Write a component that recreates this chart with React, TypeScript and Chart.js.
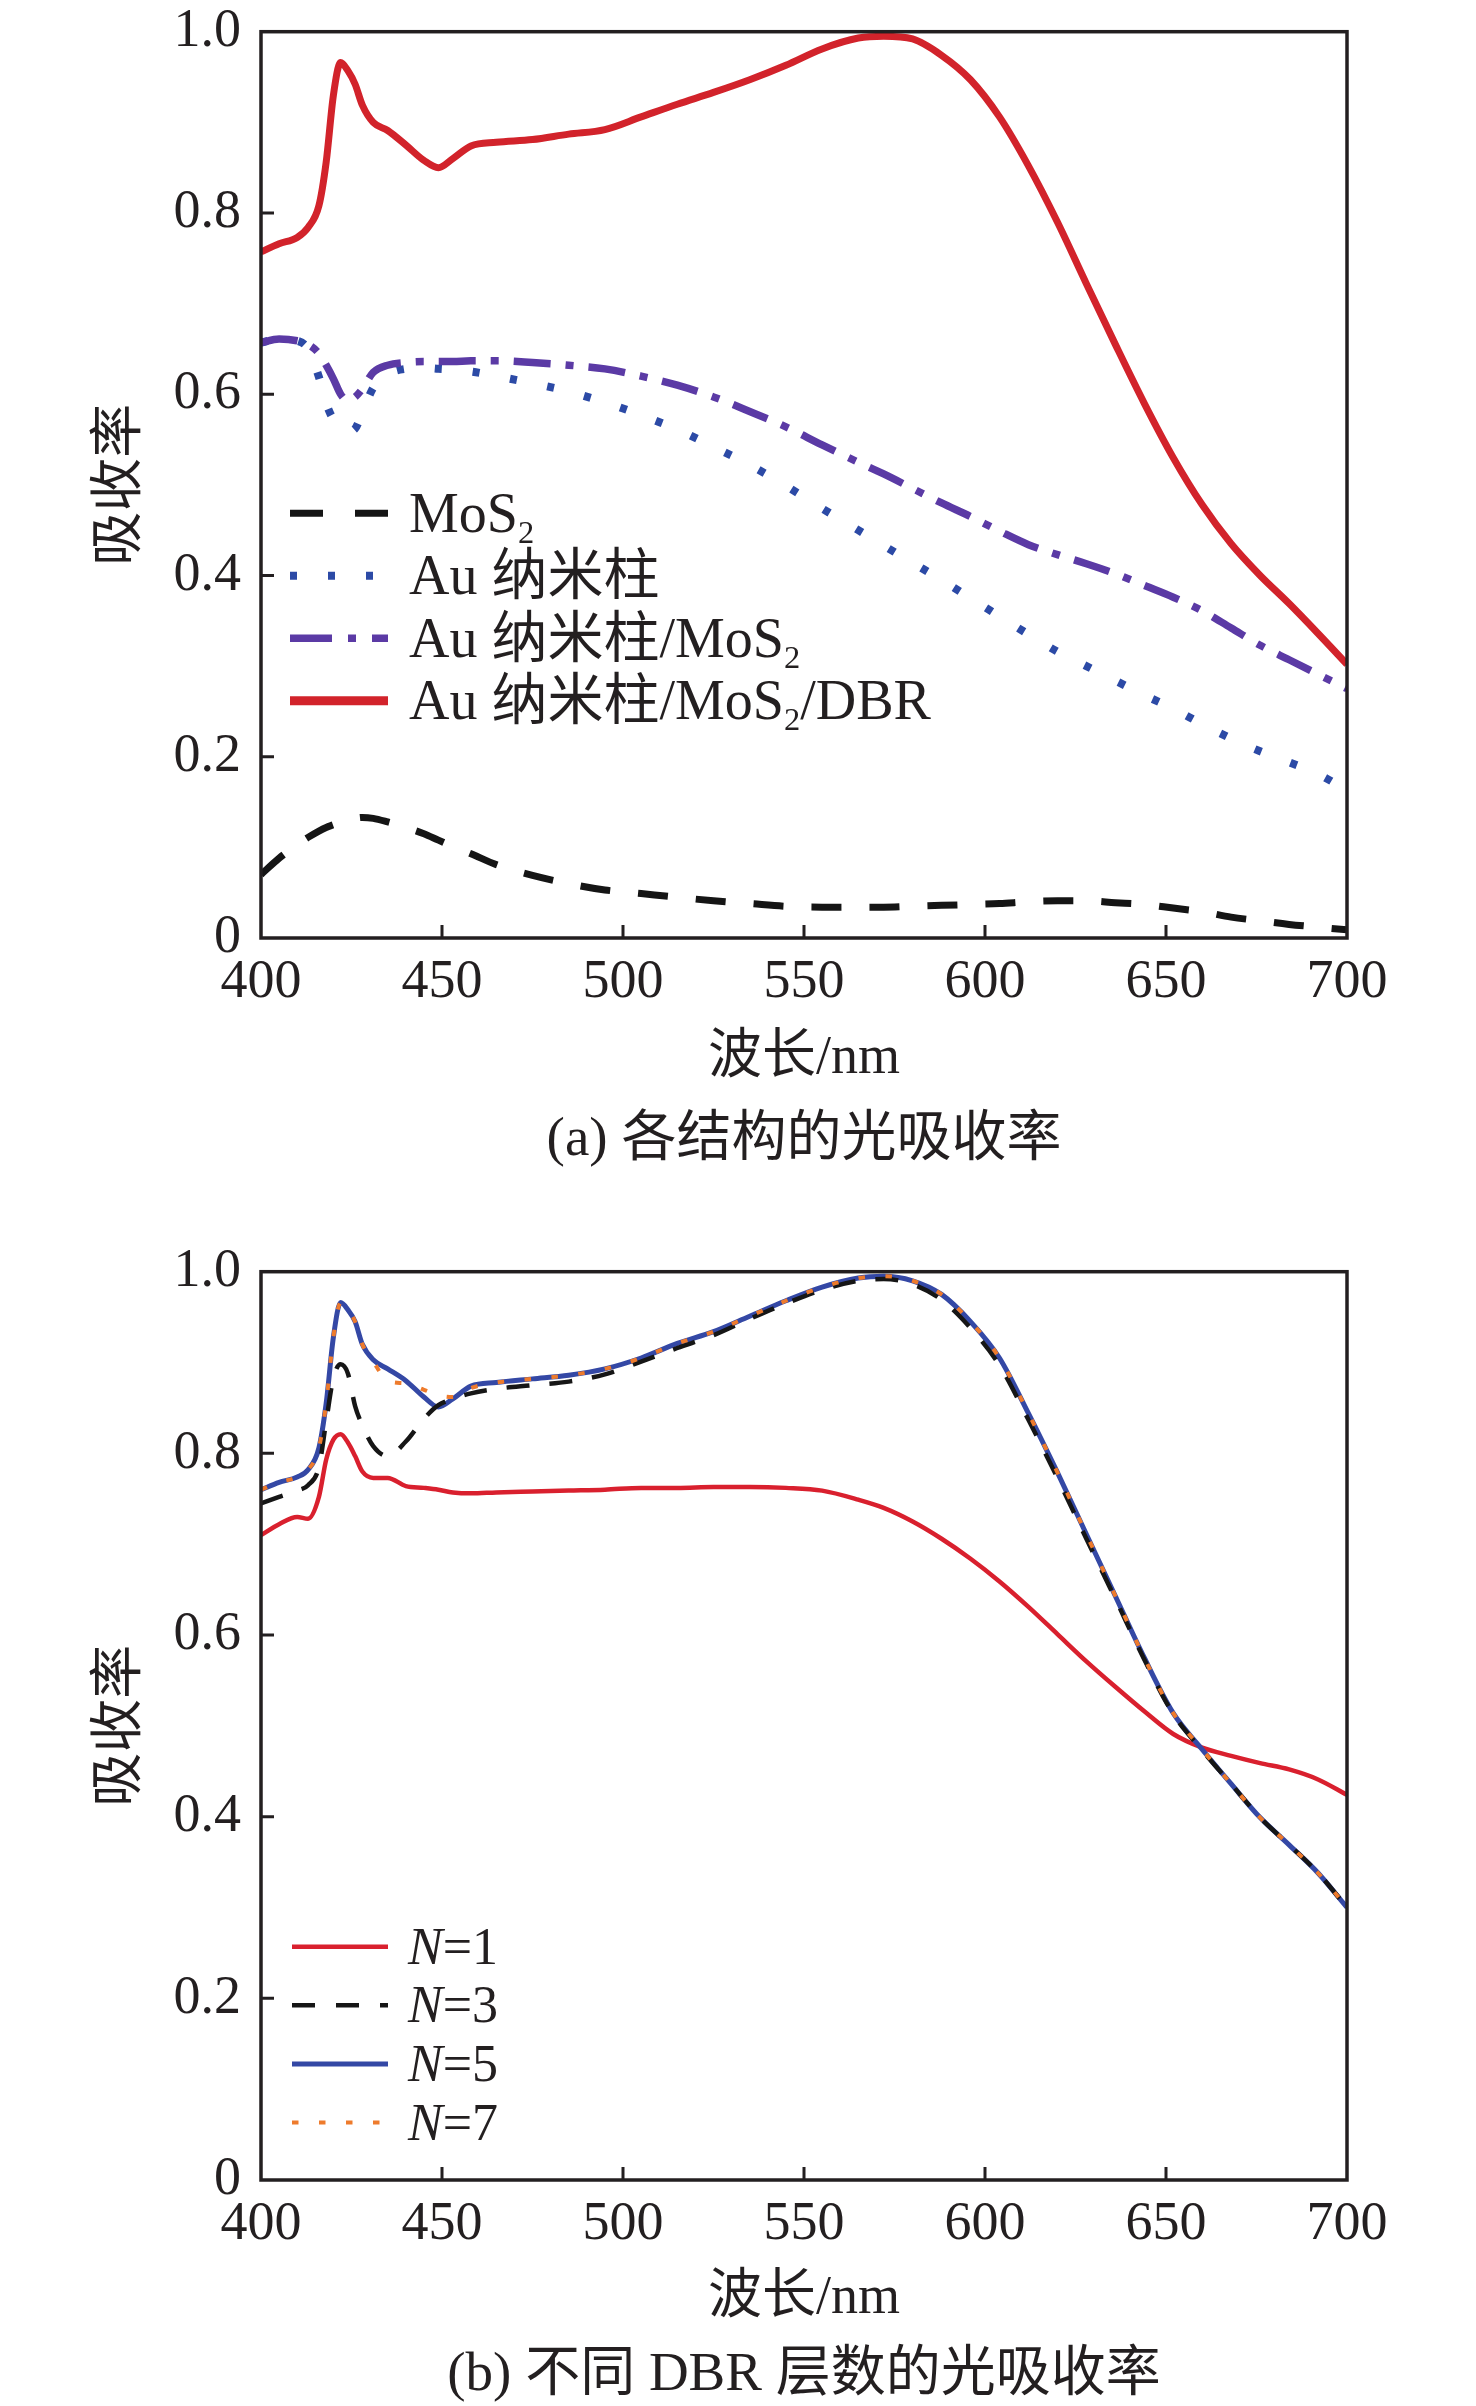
import { useEffect, useRef } from "react";
import { Chart, registerables } from "chart.js";

Chart.register(...registerables);

// wavelength grid (nm) shared by every curve
const wavelength = [
  400, 405, 410, 413, 416, 418, 420, 422, 424, 426,
  428, 431, 435, 440, 445, 449, 453, 458, 465, 475,
  485, 495, 505, 515, 525, 535, 545, 555, 565, 572,
  580, 588, 596, 604, 612, 620, 628, 636, 644, 652,
  660, 668, 676, 684, 692, 700,
];

// (a) absorption of each structure
const mos2 = [
  0.070, 0.088, 0.103, 0.111, 0.118, 0.122, 0.125, 0.128, 0.130, 0.132,
  0.133, 0.132, 0.128, 0.122, 0.115, 0.108, 0.101, 0.093, 0.081, 0.069,
  0.060, 0.053, 0.049, 0.045, 0.041, 0.038, 0.035, 0.034, 0.034, 0.034,
  0.035, 0.036, 0.037, 0.038, 0.040, 0.041, 0.041, 0.039, 0.037, 0.033,
  0.029, 0.023, 0.019, 0.015, 0.012, 0.009,
];
const auRod = [
  0.657, 0.661, 0.659, 0.650, 0.619, 0.590, 0.572, 0.563, 0.559, 0.562,
  0.580, 0.607, 0.622, 0.628, 0.629, 0.628, 0.627, 0.625, 0.620, 0.612,
  0.603, 0.591, 0.577, 0.561, 0.542, 0.522, 0.499, 0.474, 0.450, 0.433,
  0.414, 0.395, 0.375, 0.355, 0.335, 0.316, 0.300, 0.284, 0.268, 0.253,
  0.236, 0.220, 0.206, 0.194, 0.181, 0.163,
];
const auRodMos2 = [
  0.657, 0.661, 0.659, 0.655, 0.645, 0.632, 0.617, 0.600, 0.593, 0.597,
  0.606, 0.624, 0.632, 0.635, 0.636, 0.636, 0.636, 0.637, 0.637, 0.635,
  0.632, 0.628, 0.620, 0.610, 0.597, 0.581, 0.564, 0.544, 0.525, 0.512,
  0.496, 0.480, 0.465, 0.449, 0.434, 0.423, 0.413, 0.402, 0.389, 0.376,
  0.361, 0.342, 0.323, 0.307, 0.291, 0.275,
];
const auRodMos2Dbr = [
  0.757, 0.766, 0.773, 0.784, 0.808, 0.856, 0.930, 0.966, 0.957, 0.942,
  0.919, 0.900, 0.891, 0.875, 0.858, 0.850, 0.860, 0.874, 0.878, 0.881,
  0.887, 0.892, 0.906, 0.920, 0.933, 0.947, 0.963, 0.981, 0.993, 0.995,
  0.992, 0.974, 0.947, 0.906, 0.852, 0.790, 0.722, 0.655, 0.590, 0.530,
  0.478, 0.435, 0.400, 0.369, 0.336, 0.302,
];

// (b) different DBR layer numbers
const n1 = [
  0.710, 0.722, 0.730, 0.728, 0.752, 0.793, 0.815, 0.821, 0.812, 0.797,
  0.780, 0.773, 0.773, 0.764, 0.762, 0.760, 0.757, 0.756, 0.757, 0.758,
  0.759, 0.760, 0.762, 0.762, 0.763, 0.763, 0.762, 0.759, 0.749, 0.740,
  0.725, 0.706, 0.684, 0.659, 0.631, 0.601, 0.571, 0.543, 0.516, 0.491,
  0.476, 0.467, 0.459, 0.452, 0.441, 0.424,
];
const n3 = [
  0.745, 0.752, 0.759, 0.765, 0.785, 0.835, 0.883, 0.898, 0.888, 0.852,
  0.831, 0.808, 0.797, 0.813, 0.838, 0.853, 0.860, 0.866, 0.871, 0.875,
  0.879, 0.887, 0.901, 0.916, 0.930, 0.948, 0.965, 0.980, 0.990, 0.992,
  0.986, 0.969, 0.938, 0.897, 0.837, 0.773, 0.706, 0.640, 0.573, 0.513,
  0.473, 0.436, 0.399, 0.369, 0.338, 0.300,
];
const n5 = [
  0.760, 0.768, 0.774, 0.782, 0.806, 0.855, 0.928, 0.966, 0.958, 0.945,
  0.920, 0.903, 0.893, 0.880, 0.862, 0.851, 0.860, 0.874, 0.878, 0.882,
  0.886, 0.893, 0.905, 0.921, 0.934, 0.951, 0.968, 0.983, 0.993, 0.995,
  0.990, 0.975, 0.945, 0.905, 0.844, 0.779, 0.711, 0.643, 0.575, 0.514,
  0.474, 0.436, 0.399, 0.369, 0.338, 0.300,
];
const n7 = [
  0.760, 0.768, 0.774, 0.782, 0.806, 0.855, 0.928, 0.966, 0.958, 0.945,
  0.920, 0.901, 0.880, 0.877, 0.870, 0.864, 0.862, 0.872, 0.878, 0.882,
  0.886, 0.893, 0.905, 0.921, 0.934, 0.951, 0.968, 0.983, 0.993, 0.995,
  0.990, 0.975, 0.945, 0.905, 0.844, 0.779, 0.711, 0.643, 0.575, 0.514,
  0.474, 0.436, 0.399, 0.369, 0.338, 0.300,
];

const xTicks = [400, 450, 500, 550, 600, 650, 700];
const yTicks = [0, 0.2, 0.4, 0.6, 0.8, 1.0];
const yTickLabels = ["0", "0.2", "0.4", "0.6", "0.8", "1.0"];

const xTitle = "波长/nm";
const yTitle = "吸收率";
const captionA = "(a) 各结构的光吸收率";
const captionB = "(b) 不同 DBR 层数的光吸收率";

type Seg = { t: string; sub?: boolean; it?: boolean };

const legendLabelsA: Seg[][] = [
  [{ t: "MoS" }, { t: "2", sub: true }],
  [{ t: "Au 纳米柱" }],
  [{ t: "Au 纳米柱/MoS" }, { t: "2", sub: true }],
  [{ t: "Au 纳米柱/MoS" }, { t: "2", sub: true }, { t: "/DBR" }],
];
const legendLabelsB: Seg[][] = [
  [{ t: "N", it: true }, { t: "=1" }],
  [{ t: "N", it: true }, { t: "=3" }],
  [{ t: "N", it: true }, { t: "=5" }],
  [{ t: "N", it: true }, { t: "=7" }],
];

const FONT = "'Liberation Serif', 'Noto Sans CJK SC', serif";
const INK = "#231f20";

const toPoints = (ys: number[]) => wavelength.map((x, i) => ({ x, y: ys[i] }));

type Line = {
  values: number[];
  color: string;
  width: number;
  dash: number[];
  legendDash?: number[];
  legendWidth?: number;
  order: number;
};

type LegendCfg = {
  labels: Seg[][];
  lines: Line[];
  dx: number;
  dy: number;
  step: number;
  lineLen: number;
  textGap: number;
  size: number;
};

const framePlugin = {
  id: "frame",
  afterDatasetsDraw(chart: any) {
    const { ctx, chartArea: a, scales } = chart;
    ctx.save();
    ctx.strokeStyle = INK;
    ctx.lineWidth = 3.5;
    ctx.strokeRect(a.left, a.top, a.right - a.left, a.bottom - a.top);
    ctx.lineWidth = 3;
    ctx.beginPath();
    yTicks.slice(1, -1).forEach((v) => {
      const y = scales.y.getPixelForValue(v);
      ctx.moveTo(a.left, y);
      ctx.lineTo(a.left + 13, y);
    });
    xTicks.slice(1, -1).forEach((v) => {
      const x = scales.x.getPixelForValue(v);
      ctx.moveTo(x, a.bottom);
      ctx.lineTo(x, a.bottom - 13);
    });
    ctx.stroke();
    ctx.restore();
  },
};

const makeLegendPlugin = (cfg: LegendCfg) => ({
  id: "insideLegend",
  afterDraw(chart: any) {
    const { ctx, chartArea: a } = chart;
    ctx.save();
    cfg.labels.forEach((segs, i) => {
      const line = cfg.lines[i];
      const y = a.top + cfg.dy + i * cfg.step;
      const x0 = a.left + cfg.dx;
      ctx.strokeStyle = line.color;
      ctx.lineWidth = line.legendWidth ?? line.width;
      ctx.setLineDash(line.legendDash ?? line.dash);
      ctx.beginPath();
      ctx.moveTo(x0, y);
      ctx.lineTo(x0 + cfg.lineLen, y);
      ctx.stroke();
      ctx.setLineDash([]);

      ctx.fillStyle = INK;
      ctx.textBaseline = "alphabetic";
      ctx.textAlign = "left";
      let cx = x0 + cfg.lineLen + cfg.textGap;
      const base = y + cfg.size * 0.33;
      segs.forEach((s) => {
        const fs = s.sub ? cfg.size * 0.58 : cfg.size;
        ctx.font = `${s.it ? "italic " : ""}${fs}px ${FONT}`;
        ctx.fillText(s.t, cx, s.sub ? base + cfg.size * 0.2 : base);
        cx += ctx.measureText(s.t).width;
      });
    });
    ctx.restore();
  },
});

type PanelProps = {
  top: number;
  height: number;
  plotTop: number;
  plotBottom: number;
  titleCenter: number;
  lines: Line[];
  legend: LegendCfg;
};

const PLOT_LEFT = 261;
const PLOT_RIGHT = 1347;
const WIDTH = 1476;
const TICK_SIZE = 54;
const TITLE_SIZE = 54;

const Panel = ({ top, height, plotTop, plotBottom, titleCenter, lines, legend }: PanelProps) => {
  const ref = useRef<HTMLCanvasElement>(null);

  useEffect(() => {
    if (!ref.current) return;
    const titleHalf = (TITLE_SIZE * 1.2) / 2;
    const xScaleHeight = titleCenter - plotBottom + titleHalf;

    const chart = new Chart(ref.current, {
      type: "line",
      data: {
        datasets: lines.map((l) => ({
          data: toPoints(l.values),
          borderColor: l.color,
          borderWidth: l.width,
          borderDash: l.dash,
          borderCapStyle: "butt",
          pointRadius: 0,
          fill: false,
          tension: 0.4,
          cubicInterpolationMode: "monotone",
          order: l.order,
        })),
      },
      options: {
        animation: false,
        responsive: false,
        devicePixelRatio: 1,
        events: [],
        layout: {
          padding: {
            left: 0,
            right: WIDTH - PLOT_RIGHT,
            top: plotTop,
            bottom: height - plotBottom - xScaleHeight,
          },
        },
        plugins: {
          legend: { display: false },
          tooltip: { enabled: false },
        },
        scales: {
          x: {
            type: "linear",
            min: 400,
            max: 700,
            afterBuildTicks: (s: any) => {
              s.ticks = xTicks.map((value) => ({ value }));
            },
            afterFit: (s: any) => {
              s.height = xScaleHeight;
              s.paddingLeft = 0;
              s.paddingRight = 0;
            },
            grid: { display: false, drawTicks: false },
            border: { display: false },
            ticks: {
              padding: 12,
              maxRotation: 0,
              color: INK,
              font: { family: FONT, size: TICK_SIZE, lineHeight: 1.2 },
            },
            title: {
              display: true,
              text: xTitle,
              color: INK,
              padding: 0,
              font: { family: FONT, size: TITLE_SIZE, lineHeight: 1.2 },
            },
          },
          y: {
            type: "linear",
            min: 0,
            max: 1,
            afterBuildTicks: (s: any) => {
              s.ticks = yTicks.map((value) => ({ value }));
            },
            afterFit: (s: any) => {
              s.width = PLOT_LEFT;
              s.paddingTop = 0;
              s.paddingBottom = 0;
            },
            grid: { display: false, drawTicks: false },
            border: { display: false },
            ticks: {
              padding: 20,
              color: INK,
              callback: (_v: any, i: number) => yTickLabels[i],
              font: { family: FONT, size: TICK_SIZE, lineHeight: 1.2 },
            },
            title: {
              display: true,
              text: yTitle,
              color: INK,
              padding: { top: 122 - titleHalf, bottom: 0 },
              font: { family: FONT, size: TITLE_SIZE, lineHeight: 1.2 },
            },
          },
        },
      } as any,
      plugins: [framePlugin, makeLegendPlugin(legend)],
    });

    return () => {
      chart.destroy();
    };
  }, []);

  return (
    <canvas
      ref={ref}
      width={WIDTH}
      height={height}
      style={{ position: "absolute", left: 0, top, width: WIDTH, height }}
    />
  );
};

const linesA: Line[] = [
  { values: mos2, color: "#151515", width: 7, dash: [30, 28], legendDash: [33, 32], order: 3 },
  { values: auRod, color: "#2c4aa6", width: 8, dash: [7, 31], order: 2 },
  { values: auRodMos2, color: "#5b3aa5", width: 7.5, dash: [37, 15, 8, 15], legendDash: [42, 16, 8, 16], order: 1 },
  { values: auRodMos2Dbr, color: "#d2232b", width: 7, dash: [], legendWidth: 9, order: 0 },
];

const linesB: Line[] = [
  { values: n1, color: "#d9202e", width: 4.5, dash: [], order: 3 },
  { values: n3, color: "#161616", width: 4.5, dash: [23, 20], legendDash: [23, 21], order: 1 },
  { values: n5, color: "#3448a5", width: 5, dash: [], order: 2 },
  { values: n7, color: "#ee7b2c", width: 4, dash: [6.5, 20.5], order: 0 },
];

const captionStyle = {
  position: "absolute" as const,
  left: PLOT_LEFT,
  width: PLOT_RIGHT - PLOT_LEFT,
  textAlign: "center" as const,
  fontFamily: FONT,
  fontSize: 55,
  color: INK,
  whiteSpace: "nowrap" as const,
};

export default function App() {
  return (
    <div
      style={{
        position: "absolute",
        left: 0,
        top: 0,
        width: WIDTH,
        height: 2406,
        overflow: "hidden",
        background: "#fff",
      }}
    >
      <Panel
        top={0}
        height={1100}
        plotTop={31.7}
        plotBottom={938}
        titleCenter={1059}
        lines={linesA}
        legend={{
          labels: legendLabelsA,
          lines: linesA,
          dx: 29,
          dy: 481.6,
          step: 62.5,
          lineLen: 98,
          textGap: 21,
          size: 56,
        }}
      />
      <div style={{ ...captionStyle, top: 1092, height: 90, lineHeight: "90px" }}>{captionA}</div>
      <Panel
        top={1200}
        height={1206}
        plotTop={71.7}
        plotBottom={980}
        titleCenter={1099}
        lines={linesB}
        legend={{
          labels: legendLabelsB,
          lines: linesB,
          dx: 31,
          dy: 675,
          step: 58.6,
          lineLen: 96,
          textGap: 20,
          size: 52,
        }}
      />
      <div style={{ ...captionStyle, top: 2338, height: 68, lineHeight: "68px" }}>{captionB}</div>
    </div>
  );
}
